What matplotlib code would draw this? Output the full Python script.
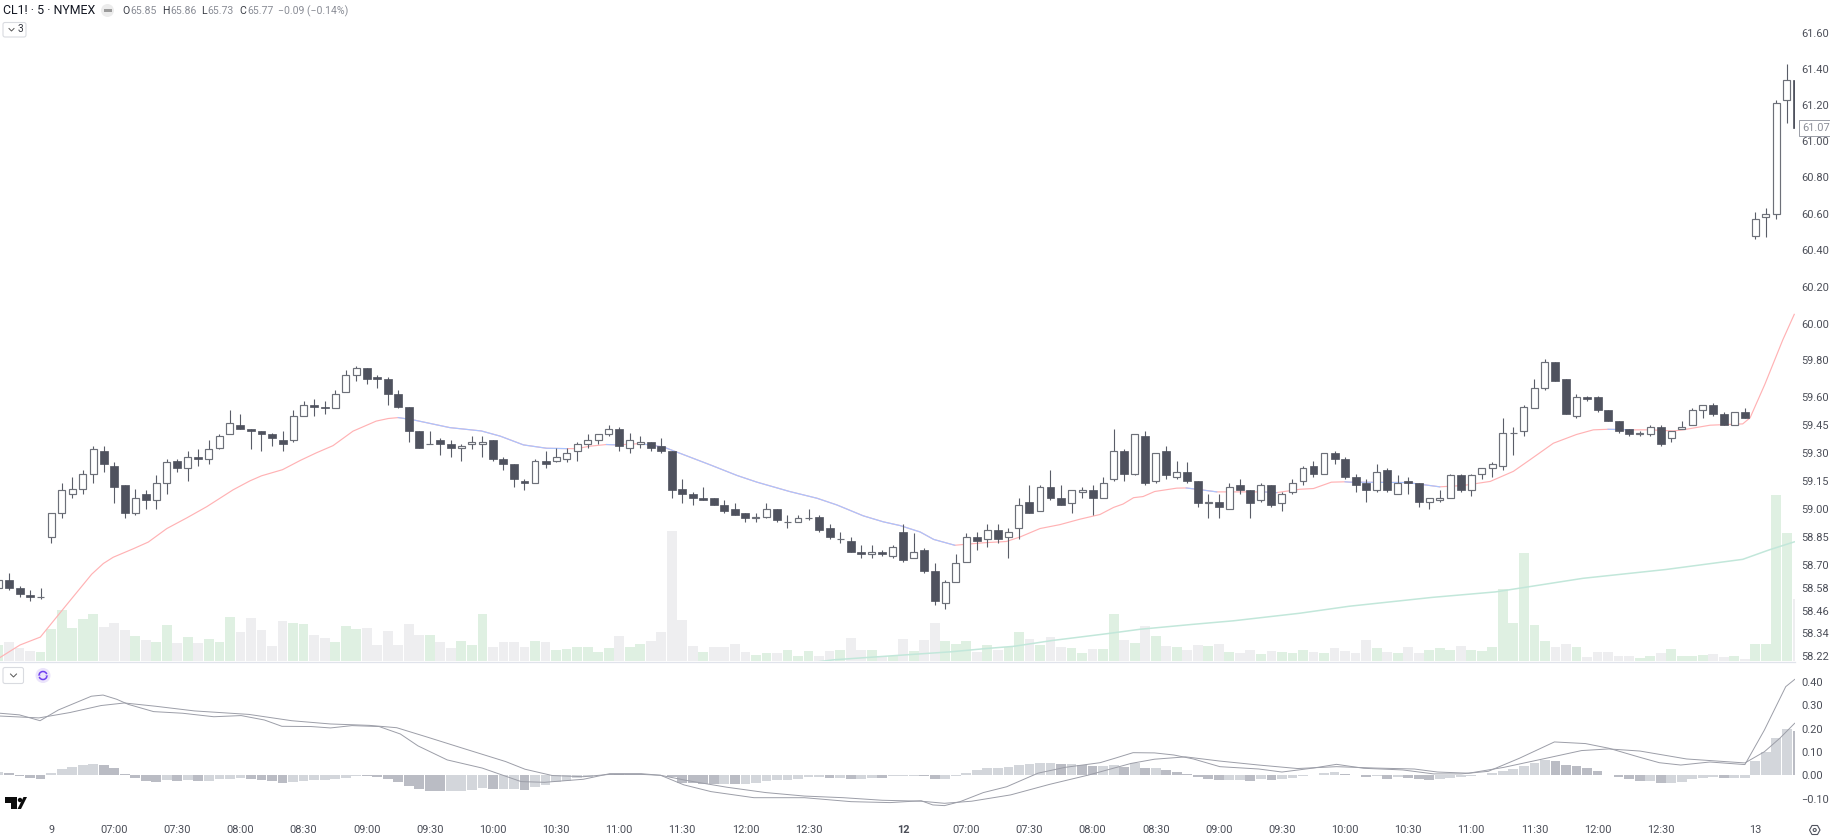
import numpy as np
import matplotlib
matplotlib.use("Agg")
import matplotlib.pyplot as plt
from matplotlib.patches import Rectangle, Circle, Polygon, FancyBboxPatch, Arc
from matplotlib.ticker import FixedLocator, FixedFormatter, NullLocator
from matplotlib.transforms import blended_transform_factory

plt.rcParams['font.family'] = ['Roboto', 'DejaVu Sans']

# ---------- candles (one row per bar: open, high, low, close) ----------
ohlc = [
(58.58,58.63,58.57,58.62),(58.62,58.66,58.57,58.58),(58.58,58.59,58.53,58.55),(58.54,58.57,58.51,58.53),
(58.53,58.58,58.52,58.53),(58.85,58.98,58.82,58.98),(58.98,59.14,58.95,59.10),(59.08,59.17,59.06,59.11),
(59.11,59.21,59.08,59.19),(59.19,59.34,59.14,59.32),(59.31,59.34,59.20,59.24),(59.23,59.25,59.03,59.12),
(59.13,59.13,58.95,58.98),(58.98,59.11,58.97,59.06),(59.08,59.10,59.00,59.05),(59.05,59.18,59.00,59.14),
(59.14,59.27,59.08,59.25),(59.26,59.27,59.20,59.22),(59.22,59.31,59.15,59.28),(59.28,59.32,59.23,59.27),
(59.27,59.37,59.24,59.32),(59.33,59.40,59.32,59.39),(59.40,59.53,59.40,59.46),(59.45,59.51,59.43,59.43),
(59.43,59.43,59.32,59.42),(59.42,59.42,59.31,59.40),(59.40,59.41,59.34,59.38),(59.37,59.42,59.31,59.35),
(59.37,59.53,59.36,59.50),(59.50,59.58,59.50,59.56),(59.56,59.59,59.50,59.55),(59.55,59.58,59.51,59.54),
(59.54,59.64,59.54,59.62),(59.63,59.75,59.63,59.72),(59.72,59.77,59.69,59.76),(59.76,59.76,59.67,59.70),
(59.71,59.72,59.65,59.70),(59.70,59.71,59.56,59.62),(59.62,59.64,59.54,59.55),(59.55,59.55,59.36,59.42),
(59.42,59.42,59.33,59.33),(59.35,59.42,59.35,59.35),(59.37,59.38,59.29,59.35),(59.35,59.37,59.28,59.33),
(59.33,59.35,59.26,59.34),(59.35,59.39,59.32,59.36),(59.35,59.39,59.28,59.36),(59.37,59.37,59.26,59.27),
(59.27,59.28,59.21,59.24),(59.24,59.24,59.12,59.16),(59.15,59.16,59.10,59.14),(59.14,59.27,59.14,59.26),
(59.26,59.31,59.22,59.24),(59.26,59.33,59.25,59.28),(59.27,59.33,59.25,59.30),(59.31,59.36,59.26,59.35),
(59.35,59.40,59.33,59.37),(59.37,59.40,59.35,59.40),(59.40,59.45,59.39,59.43),(59.43,59.44,59.31,59.34),
(59.33,59.41,59.30,59.37),(59.35,59.39,59.33,59.36),(59.36,59.36,59.31,59.33),(59.34,59.38,59.30,59.31),
(59.31,59.31,59.06,59.10),(59.11,59.16,59.03,59.08),(59.08,59.09,59.02,59.06),(59.06,59.12,59.05,59.05),
(59.06,59.06,59.02,59.02),(59.02,59.05,58.98,58.99),(59.00,59.03,58.97,58.97),(58.98,58.98,58.93,58.95),
(58.95,58.98,58.93,58.96),(58.96,59.03,58.95,59.00),(59.00,59.00,58.93,58.94),(58.93,58.97,58.90,58.93),
(58.93,58.97,58.93,58.95),(58.95,59.00,58.94,58.95),(58.96,58.97,58.88,58.89),(58.90,58.92,58.84,58.85),
(58.84,58.88,58.82,58.84),(58.83,58.85,58.77,58.77),(58.77,58.81,58.74,58.76),(58.76,58.81,58.74,58.77),
(58.77,58.78,58.75,58.76),(58.75,58.81,58.74,58.80),(58.88,58.92,58.72,58.73),(58.74,58.87,58.74,58.77),
(58.78,58.79,58.66,58.67),(58.67,58.71,58.49,58.51),(58.50,58.62,58.47,58.61),(58.61,58.76,58.61,58.71),
(58.72,58.87,58.72,58.85),(58.85,58.88,58.78,58.83),(58.84,58.92,58.80,58.89),(58.89,58.92,58.82,58.84),
(58.85,58.90,58.74,58.88),(58.90,59.06,58.84,59.02),(59.04,59.13,58.98,58.98),(58.99,59.13,58.99,59.12),
(59.12,59.21,59.05,59.06),(59.06,59.13,59.02,59.02),(59.03,59.10,58.98,59.10),(59.09,59.12,59.06,59.10),
(59.10,59.13,58.97,59.06),(59.06,59.17,59.06,59.14),(59.16,59.43,59.15,59.31),(59.31,59.32,59.15,59.19),
(59.19,59.40,59.18,59.40),(59.39,59.42,59.13,59.14),(59.15,59.30,59.14,59.30),(59.31,59.34,59.16,59.18),
(59.17,59.26,59.16,59.20),(59.20,59.25,59.14,59.15),(59.15,59.15,59.01,59.03),(59.03,59.08,58.95,59.04),
(59.04,59.08,58.95,59.01),(59.00,59.14,59.00,59.12),(59.13,59.16,59.08,59.10),(59.10,59.10,58.95,59.03),
(59.05,59.14,59.04,59.13),(59.13,59.13,59.01,59.02),(59.03,59.09,58.99,59.08),(59.09,59.16,59.08,59.14),
(59.15,59.23,59.13,59.22),(59.23,59.26,59.17,59.19),(59.19,59.30,59.19,59.30),(59.30,59.31,59.24,59.27),
(59.27,59.28,59.16,59.17),(59.17,59.19,59.09,59.13),(59.14,59.16,59.04,59.10),(59.10,59.24,59.09,59.20),
(59.21,59.22,59.09,59.10),(59.08,59.18,59.08,59.14),(59.15,59.17,59.08,59.14),(59.14,59.14,59.01,59.04),
(59.04,59.06,59.00,59.06),(59.05,59.10,59.04,59.06),(59.06,59.19,59.06,59.18),(59.18,59.19,59.09,59.10),
(59.10,59.19,59.07,59.18),(59.19,59.22,59.16,59.22),(59.22,59.25,59.17,59.24),(59.23,59.49,59.21,59.41),
(59.41,59.44,59.29,59.41),(59.42,59.56,59.39,59.55),(59.54,59.70,59.54,59.65),(59.65,59.81,59.64,59.79),
(59.79,59.79,59.69,59.69),(59.70,59.70,59.51,59.51),(59.50,59.62,59.49,59.60),(59.60,59.61,59.58,59.59),
(59.60,59.61,59.52,59.53),(59.53,59.53,59.47,59.47),(59.47,59.47,59.41,59.42),(59.43,59.43,59.39,59.40),
(59.40,59.42,59.39,59.41),(59.40,59.45,59.39,59.44),(59.44,59.45,59.34,59.35),(59.38,59.42,59.36,59.42),
(59.43,59.47,59.43,59.44),(59.45,59.54,59.45,59.53),(59.53,59.56,59.49,59.56),(59.56,59.57,59.50,59.51),
(59.51,59.52,59.45,59.45),(59.45,59.52,59.45,59.52),(59.52,59.54,59.49,59.49),(60.48,60.61,60.46,60.57),
(60.58,60.63,60.47,60.60),(60.60,61.23,60.57,61.21),(61.23,61.43,61.10,61.34),(61.34,61.35,61.06,61.07),
]

# ---------- volume (chart units) and whether the bar is green ----------
volume = [49,58,40,31,26,96,154,98,125,142,103,114,94,76,64,56,107,55,71,53,67,58,131,87,130,94,44,121,114,112,
78,68,58,106,96,98,49,89,49,112,79,79,56,38,60,47,142,43,56,58,43,61,58,33,35,42,42,28,40,76,42,52,61,87,
389,123,46,26,43,43,50,28,19,24,24,33,16,30,16,31,34,69,34,34,16,16,67,29,64,115,61,52,61,28,48,33,43,87,
67,49,72,43,40,24,37,37,141,64,55,105,76,46,43,34,49,46,52,28,25,33,21,30,28,25,34,28,24,40,31,24,64,40,28,
24,43,25,33,40,33,46,33,31,43,217,114,325,109,61,43,52,42,13,28,28,14,14,10,16,25,37,16,14,19,22,13,15,7,51,
50,499,384,186]
volume_green = [1,0,0,0,1,1,1,1,1,1,0,0,0,1,0,1,1,0,1,0,1,1,1,0,0,0,0,0,1,1,0,0,1,1,1,0,0,0,0,0,0,1,0,0,1,1,
1,0,0,0,0,1,0,1,1,1,1,1,1,0,1,1,0,0,0,0,0,1,0,0,0,0,1,1,0,1,1,1,0,0,1,0,0,1,0,1,0,1,0,0,1,1,1,0,1,0,1,1,0,
1,0,0,1,1,0,1,1,0,1,0,1,0,1,0,0,1,0,1,0,0,1,0,1,1,1,0,1,0,0,0,0,1,0,1,0,0,1,1,1,0,1,1,1,1,1,1,1,1,0,0,1,0,
0,0,0,0,1,1,0,1,1,1,1,0,0,1,0,1,1,1,1,0]

# ---------- moving averages, read at bar positions ----------
ma_idx = [0.14,2.04,3.98,4.9,6.48,8.86,9.97,10.9,12.8,14.24,16.0,17.9,19.8,22.3,23.9,25.0,27.0,28.7,30.2,31.8,33.7,
35.9,37.05,38.0,39.4,42.9,45.9,47.7,49.9,52.1,54.0,55.0,56.2,57.8,58.8,61.0,63.2,65.1,67.6,70.2,72.1,75.2,77.8,
79.7,82.2,84.1,85.7,87.6,88.9,90.9,93.6,95.8,97.1,99.0,100.9,102.8,104.7,106.0,106.9,107.9,108.8,109.9,112.0,112.9,
114.2,115.8,120.2,121.5,123.7,125.0,126.7,128.0,128.5,133.9,135.8,137.0,139.2,141.8,144.0,145.6,147.8,150.0,151.6,
153.0,155.4,157.0,159.2,160.1,162.7,165.8,166.5,167.9,169.6,170.7]
ma_val = [58.212,58.278,58.32,58.383,58.491,58.653,58.71,58.743,58.788,58.824,58.896,58.953,59.013,59.103,59.151,59.178,
59.211,59.261,59.301,59.34,59.418,59.472,59.486,59.491,59.479,59.437,59.419,59.391,59.344,59.326,59.324,59.324,59.337,
59.346,59.344,59.351,59.333,59.292,59.238,59.18,59.144,59.094,59.058,59.022,58.964,58.932,58.912,58.878,58.838,58.807,
58.82,58.827,58.851,58.896,58.917,58.946,58.971,59.009,59.027,59.061,59.067,59.094,59.112,59.113,59.104,59.092,59.092,
59.088,59.106,59.11,59.144,59.146,59.144,59.142,59.128,59.119,59.126,59.148,59.202,59.265,59.353,59.4,59.425,59.428,
59.425,59.425,59.419,59.425,59.45,59.457,59.49,59.67,59.91,60.05]
ma_blue_spans = [(38.0,54.0),(57.8,58.8),(61.0,90.9),(112.9,115.8),(120.2,121.5),(128.0,137.0),(153.0,155.4)]

slow_idx = [76.5,79.4,85.7,90.5,94.0,96.5,100.2,105.4,108.5,113.3,117.4,123.7,128.4,136.3,142.3,145.2,150.6,158.5,165.8,168.3,170.7]
slow_val = [58.18,58.20,58.224,58.242,58.26,58.271,58.302,58.338,58.361,58.386,58.406,58.446,58.483,58.53,58.559,58.584,58.631,58.678,58.732,58.782,58.825]

# ---------- MACD ----------
macd_idx = [0.14,1.99,3.95,5.69,8.83,9.94,11.23,12.34,14.74,17.5,20.47,23.06,25.28,26.94,29.71,31.56,33.6,36.18,38.2,39.88,
42.65,45.98,49.68,51.9,55.6,58.1,61.09,62.94,65.15,67.74,71.81,76.61,81.05,84.75,87.7,88.81,89.92,91.4,93.62,95.84,98.8,
101.38,104.71,106.19,107.85,109.89,111.73,113.58,116.1,119.8,122.0,124.97,127.19,129.78,133.48,136.43,139.02,141.61,144.57,
147.9,150.85,153.07,156.03,157.87,159.91,162.68,166.01,167.86,169.89,170.74]
macd_val = [.266,.259,.234,.28,.339,.344,.326,.304,.273,.266,.251,.256,.237,.21,.209,.203,.213,.209,.177,.126,.066,.031,-.027,
-.03,-.017,.007,.007,0,-.041,-.07,-.096,-.096,-.113,-.117,-.109,-.127,-.13,-.113,-.074,-.049,.009,.034,.054,.074,.097,.096,
.087,.07,.037,.027,.014,.031,.047,.03,.023,.006,.006,.017,.073,.143,.136,.116,.077,.054,.044,.057,.046,.194,.38,.411]
signal_idx = [0.14,3.84,6.79,9.75,11.97,14.93,18.62,23.8,27.87,31.56,35.26,37.85,40.81,44.13,48.2,50.05,52.64,55.6,58.1,61.09,
62.94,65.52,69.22,72.92,76.61,80.31,84.01,87.7,89.92,92.51,96.21,99.9,103.6,107.67,109.89,112.84,116.1,119.8,123.49,127.19,
130.89,134.58,136.8,139.76,143.09,147.52,150.48,153.07,156.03,160.46,166.01,167.86,169.33,170.74]
signal_val = [.254,.246,.269,.299,.31,.296,.276,.261,.234,.22,.214,.204,.163,.116,.059,.026,-.001,-.006,.004,.004,0,-.023,-.051,
-.074,-.089,-.096,-.107,-.111,-.12,-.111,-.084,-.039,.001,.051,.069,.079,.061,.044,.029,.037,.031,.027,.014,.009,.034,.077,
.106,.113,.104,.07,.053,.101,.159,.223]
hist = [.014,.011,-.001,-.01,-.014,.011,.027,.037,.043,.05,.046,.03,.007,-.01,-.024,-.027,-.02,-.024,-.02,-.024,-.023,-.016,
-.014,-.013,-.016,-.02,-.024,-.033,-.029,-.023,-.02,-.02,-.016,-.01,-.001,-.003,-.009,-.016,-.029,-.046,-.059,-.066,-.067,
-.067,-.067,-.061,-.054,-.059,-.059,-.057,-.061,-.05,-.04,-.029,-.024,-.013,-.007,.001,.006,.004,.004,.004,.001,0,-.007,
-.031,-.034,-.036,-.037,-.037,-.039,-.037,-.033,-.026,-.021,-.019,-.014,-.009,-.007,-.011,-.011,-.014,-.014,-.011,-.013,
-.004,-.004,-.001,-.004,-.014,-.014,-.004,.011,.021,.031,.031,.036,.044,.047,.054,.054,.047,.047,.043,.039,.039,.043,.037,
.051,.031,.031,.023,.013,.004,-.009,-.017,-.021,-.021,-.021,-.024,-.017,-.021,-.017,-.01,-.001,.003,.01,.013,.006,0,-.009,
-.003,-.014,-.007,-.011,-.017,-.02,-.017,-.01,-.007,-.001,.001,.01,.02,.029,.041,.054,.066,.063,.046,.04,.03,.02,.001,
-.007,-.017,-.026,-.026,-.031,-.031,-.029,-.017,-.011,-.007,-.01,-.01,-.01,.061,.1,.16,.197,.19]

# ---------- axis labels ----------
price_ticks = [61.60,61.40,61.20,61.00,60.80,60.60,60.40,60.20,60.00,59.80,59.60,59.45,59.30,59.15,59.00,58.85,58.70,58.58,58.46,58.34,58.22]
macd_ticks = [0.40,0.30,0.20,0.10,0.00,-0.10]
time_pos = [5,11,17,23,29,35,41,47,53,59,65,71,77,86,92,98,104,110,116,122,128,134,140,146,152,158,167]
time_lbl = ['9','07:00','07:30','08:00','08:30','09:00','09:30','10:00','10:30','11:00','11:30','12:00','12:30','12',
            '07:00','07:30','08:00','08:30','09:00','09:30','10:00','10:30','11:00','11:30','12:00','12:30','13']
header = 'CL1! · 5 · NYMEX'
ohlc_head = [('O','65.85'),('H','65.86'),('L','65.73'),('C','65.77')]
change_head = '−0.09 (−0.14%)'

W, H = 1830, 838
DARK = '#4f525e'; EDGE = '#6d7079'; TXT = '#4b4e58'
fig = plt.figure(figsize=(W/100, H/100), dpi=100, facecolor='white')
def rect(x0, y0, x1, y1):
    return [x0/W, 1-y1/H, (x1-x0)/W, (y1-y0)/H]

xlim = (0.1426, 170.77)
ax_vol = fig.add_axes(rect(0, 0, 1795, 661), zorder=0)
ax = fig.add_axes(rect(0, 0, 1795, 661), zorder=1, facecolor='none')
ax2 = fig.add_axes(rect(0, 662, 1795, 812), zorder=1, facecolor='none')

o, h, l, c = [np.array(a) for a in zip(*ohlc)]
n = len(o)
idx = np.arange(n)

# volume
ax_vol.bar(idx, volume, width=0.93, color=['#dff0e2' if g else '#eeeef0' for g in volume_green], linewidth=0)
ax_vol.set_xlim(xlim); ax_vol.set_ylim(0, 661*3); ax_vol.axis('off')

# price pane
ax.set_yscale('log')
ptop = 61.6*np.exp(33/11040); pbot = 58.22*np.exp(-5/11040)
ax.set_xlim(xlim); ax.set_ylim(pbot, ptop)
up = c >= o
ax.vlines(idx, l, h, color='#5a5d68', lw=0.8, zorder=3)
top = np.maximum(o, c); bot = np.minimum(o, c)
ax.bar(idx[up], (top-bot)[up], bottom=bot[up], width=0.66, facecolor='white', edgecolor=EDGE, linewidth=0.85, zorder=4)
ax.bar(idx[~up], (top-bot)[~up], bottom=bot[~up], width=0.76, facecolor=DARK, edgecolor=DARK, linewidth=0.5, zorder=4)

mi = np.array(ma_idx); mv = np.array(ma_val)
ax.plot(mi, mv, color='#ffb2b4', lw=0.85, zorder=2)
for a, b in ma_blue_spans:
    m = (mi >= a) & (mi <= b)
    ax.plot(mi[m], mv[m], color='#a9c4ff', lw=0.85, zorder=2.1)
ax.plot(slow_idx, slow_val, color='#c2e7da', lw=1.1, zorder=2)

ax.yaxis.tick_right()
ax.yaxis.set_major_locator(FixedLocator(price_ticks))
ax.yaxis.set_major_formatter(FixedFormatter([f'{v:.2f}' for v in price_ticks]))
ax.yaxis.set_minor_locator(NullLocator())
ax.tick_params(axis='y', which='both', length=0, pad=4.6, labelsize=7.9, labelcolor=TXT)
ax.tick_params(axis='x', which='both', length=0, labelbottom=False)
for s in ax.spines.values(): s.set_visible(False)

tr = blended_transform_factory(ax.transAxes, ax.transData)
ax.text(1802/1795, 61.80, '61.80', transform=tr, fontsize=7.9, color=TXT, ha='left', va='center', clip_on=False)
ax.text(1802/1795, c[-1], f'{c[-1]:.2f}', transform=tr, fontsize=7.9, color='#8b8e98', ha='left', va='center', clip_on=False,
        zorder=6, bbox=dict(boxstyle='square,pad=0.28', fc='white', ec='#9a9da7', lw=0.7))

# MACD pane
ax2.set_xlim(xlim); ax2.set_ylim(-(812-775.3)/233.3, (775.3-662)/233.3)
hh = np.array(hist)
cols = ['#d3d6db' if i == 0 or hh[i] >= hh[i-1] else '#babcc4' for i in range(n)]
ax2.bar(idx, hh, width=0.93, color=cols, linewidth=0, zorder=1)
ax2.plot(macd_idx, macd_val, color='#9c9ea8', lw=0.7, zorder=3)
ax2.plot(signal_idx, signal_val, color='#9c9ea8', lw=0.7, zorder=3)
ax2.yaxis.tick_right()
ax2.set_yticks(macd_ticks)
ax2.set_yticklabels([f'{v:.2f}'.replace('-', '−') if v < 0 else f'{v:.2f}' for v in macd_ticks])
ax2.tick_params(axis='y', length=0, pad=4.6, labelsize=7.9, labelcolor=TXT)
ax2.set_xticks(time_pos)
ax2.set_xticklabels(time_lbl)
ax2.tick_params(axis='x', length=0, pad=9.5, labelsize=7.9, labelcolor=TXT)
for lab, t in zip(ax2.get_xticklabels(), time_lbl):
    if t == '12':
        lab.set_fontweight('bold')
for s in ax2.spines.values(): s.set_visible(False)

# overlay in pixel coordinates: header text and furniture
ov = fig.add_axes([0, 0, 1, 1], zorder=5, facecolor='none')
ov.set_xlim(0, W); ov.set_ylim(H, 0); ov.axis('off')
ov.plot([0, 1795], [661.5, 661.5], color='#e0e3eb', lw=0.9)
ov.text(3, 10.7, header, fontsize=8.9, color='#131722', va='center', ha='left')
ov.add_patch(Circle((107.5, 10.5), 6.5, fc='#ececec', ec='none'))
ov.add_patch(Rectangle((103.5, 9.3), 8, 2.4, fc='#9b9b9b', ec='none'))
for (a, b), x, xd in zip(ohlc_head, [122, 162, 201, 239], [130, 170, 207.5, 247]):
    ov.text(x, 11, a, fontsize=7.6, color='#3a3d46', va='center', ha='left')
    ov.text(xd, 11, b, fontsize=7.6, color='#8a8d96', va='center', ha='left')
ov.text(278, 11, change_head, fontsize=7.6, color='#8a8d96', va='center', ha='left')

ov.add_patch(FancyBboxPatch((3, 22.5), 23, 14.5, boxstyle='round,pad=0,rounding_size=2', fc='white', ec='#d9dbe0', lw=0.8))
ov.plot([9, 11.5, 14], [28.5, 31, 28.5], color='#555', lw=0.7)
ov.text(18, 29.3, '3', fontsize=7.4, color='#33363f', va='center', ha='left')
ov.add_patch(FancyBboxPatch((3, 667.5), 20.5, 16, boxstyle='round,pad=0,rounding_size=2', fc='white', ec='#d9dbe0', lw=0.8))
ov.plot([10.5, 13.5, 16.5], [674, 677, 674], color='#555', lw=0.7)
ov.add_patch(Circle((43, 675.5), 7.5, fc='#ebe4fb', ec='none'))
ov.add_patch(Arc((43, 675.5), 8, 8, theta1=20, theta2=160, ec='#6f3ff0', lw=1.1))
ov.add_patch(Arc((43, 675.5), 8, 8, theta1=200, theta2=340, ec='#6f3ff0', lw=1.1))
ov.add_patch(Polygon([(37.8, 675.5), (40.6, 675.5), (39.2, 673.2)], fc='#6f3ff0', ec='none'))
ov.add_patch(Polygon([(45.4, 675.5), (48.2, 675.5), (46.8, 677.8)], fc='#6f3ff0', ec='none'))

# logo
ov.add_patch(Polygon([(5, 797), (17, 797), (17, 809), (11, 809), (11, 803), (5, 803)], fc='#0b0b0b', ec='none'))
ov.add_patch(Circle((20, 800), 2.2, fc='#0b0b0b', ec='none'))
ov.add_patch(Polygon([(21, 809), (27, 797), (23.5, 797), (17.5, 809)], fc='#0b0b0b', ec='none'))

# settings icon
ov.add_patch(Polygon([(1809.5, 830), (1812, 825.5), (1817.5, 825.5), (1820, 830), (1817.5, 834.5), (1812, 834.5)], fc='white', ec='#50535e', lw=0.8))
ov.add_patch(Circle((1814.7, 830), 1.5, fc='none', ec='#50535e', lw=0.8))

assert len(ohlc) == len(volume) == len(volume_green) == len(hist), (len(ohlc), len(volume), len(volume_green), len(hist))
fig.savefig('out.png', dpi=100, facecolor='white')
